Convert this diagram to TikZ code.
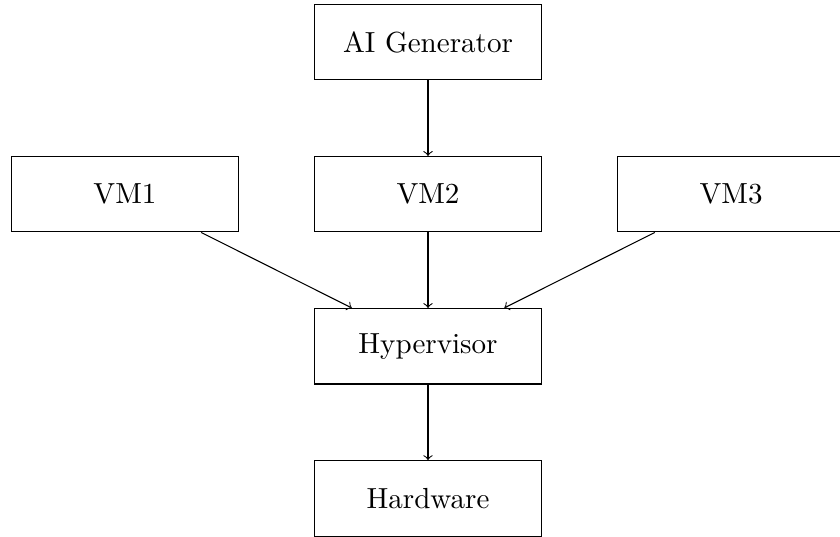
\documentclass[tikz,border=0pt]{standalone}
\usetikzlibrary{positioning}
\begin{document}
\begin{tikzpicture}[
  box/.style={draw, rectangle, minimum width=3cm, minimum height=1cm, font=\fontsize{10.95pt}{13.6pt}\selectfont},
  arr/.style={->}
]
\useasboundingbox (-5.669,-4.540) rectangle (5.457,2.572);
\node[box] (vm2) at (0,0) {VM2};
\node[box, above=1cm of vm2] (ai) {AI Generator};
\node[box, left=1cm of vm2] (vm1) {VM1};
\node[box, right=1cm of vm2] (vm3) {VM3};
\node[box, below=1cm of vm2] (hyp) {Hypervisor};
\node[box, below=1cm of hyp] (hw) {Hardware};
\draw[arr] (ai) -- (vm2);
\draw[arr] (vm1) -- (hyp);
\draw[arr] (vm2) -- (hyp);
\draw[arr] (vm3) -- (hyp);
\draw[arr] (hyp) -- (hw);
\end{tikzpicture}
\end{document}
